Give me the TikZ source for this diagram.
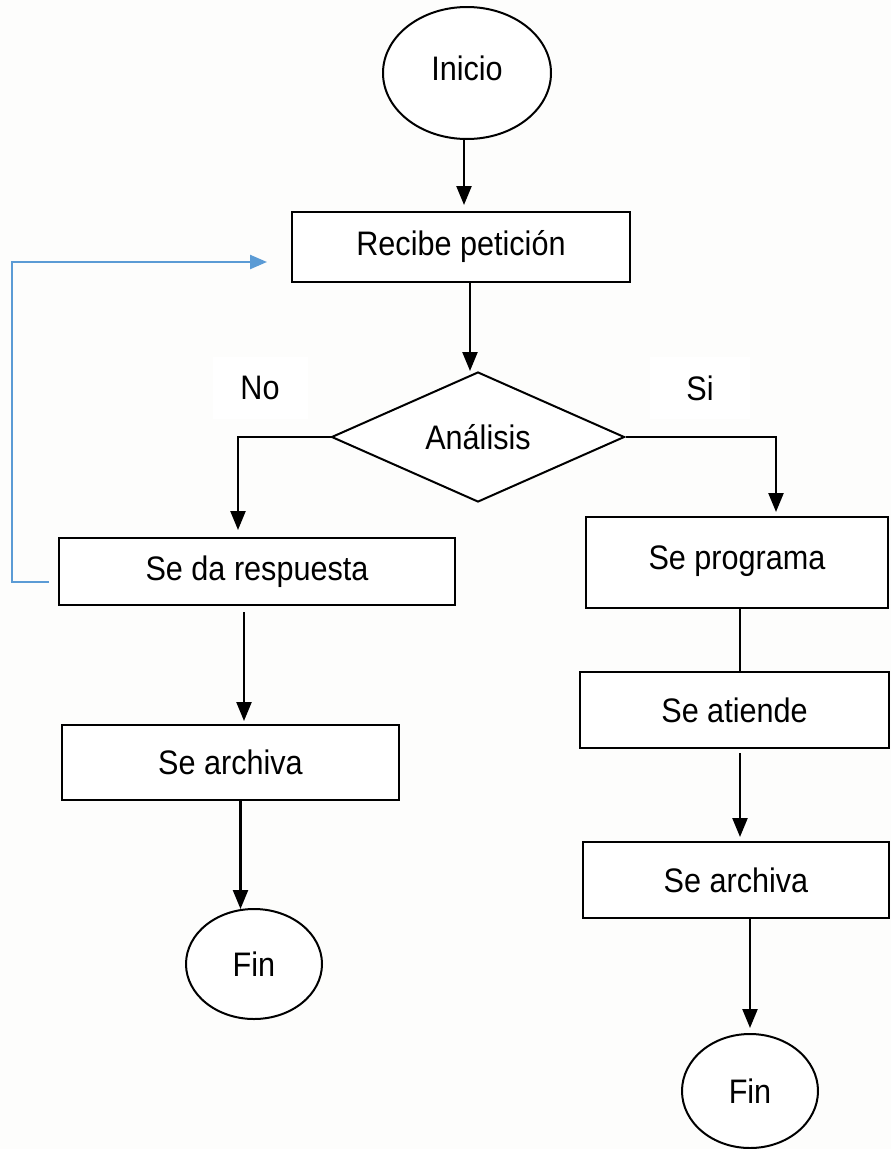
\documentclass[tikz,border=0pt]{standalone}
\usepackage{fontspec}
\setmainfont{Liberation Sans}
\usetikzlibrary{shapes.geometric,arrows.meta,calc}
\definecolor{bg}{RGB}{253,253,252}
\definecolor{loopblue}{RGB}{91,155,213}
\newcommand\narrowtxt[1]{\scalebox{0.9}[1]{#1}}
\begin{document}
\begin{tikzpicture}[x=1pt,y=-1pt,
 every node/.style={font=\fontsize{34}{40}\selectfont, inner sep=0pt},
 box/.style={draw, line width=2pt, fill=white, rectangle},
 oval/.style={draw, line width=2pt, fill=white, ellipse},
 decision/.style={draw, line width=2pt, fill=white, diamond, aspect=2.25},
 arr/.style={line width=2.4pt, -{Triangle[width=15pt,length=19pt]}},
 plain/.style={line width=2.4pt},
 lbl/.style={fill=white},
 back/.style={line width=2.4pt, color=loopblue, -{Triangle[width=14pt,length=17pt]}}]
\path[use as bounding box, fill=bg] (0,0) rectangle (891,1149);

\node[oval, minimum width=168pt, minimum height=132pt] (inicio) at (467,73) {\raisebox{10pt}{\narrowtxt{Inicio}}};
\node[box, minimum width=338pt, minimum height=70pt] (recibe) at (461,247) {\narrowtxt{Recibe petición}};
\node[decision, minimum width=293pt, minimum height=130pt] (dia) at (478,437) {\raisebox{-5pt}{\narrowtxt{Análisis}}};
\node[lbl, minimum width=95pt, minimum height=62pt] (no) at (260,388) {\narrowtxt{No}};
\node[lbl, minimum width=100pt, minimum height=62pt] (si) at (700,388) {\narrowtxt{Si}};

\node[box, minimum width=396pt, minimum height=67pt] (resp) at (257,571.5) {\narrowtxt{Se da respuesta}};
\node[box, minimum width=337pt, minimum height=75pt] (archL) at (230.5,762.5) {\narrowtxt{Se archiva}};
\node[oval, minimum width=136pt, minimum height=110pt] (finL) at (254,964) {\narrowtxt{Fin}};

\node[box, minimum width=302pt, minimum height=91pt] (prog) at (737,562.5) {\raisebox{9pt}{\narrowtxt{Se programa}}};
\node[box, minimum width=309pt, minimum height=76pt] (atiende) at (734.5,710) {\narrowtxt{Se atiende}};
\node[box, minimum width=306pt, minimum height=76pt] (archR) at (736,880) {\narrowtxt{Se archiva}};
\node[oval, minimum width=136pt, minimum height=114pt] (finR) at (750,1091) {\narrowtxt{Fin}};

\draw[arr, shorten >=6pt] ([xshift=-3pt]inicio.south) -- ([xshift=-3pt]inicio.south |- recibe.north);
\draw[arr] ([xshift=9pt]recibe.south) -- ([xshift=9pt]recibe.south |- dia.north);
\draw[arr, shorten >=7pt] (dia.west) -| ([xshift=-19pt]resp.north);
\draw[arr, shorten >=4pt] (dia.east) -| ([xshift=39pt]prog.north);
\draw[plain] ([xshift=3pt]prog.south) -- ([xshift=3pt]prog.south |- atiende.north);
\draw[arr, shorten >=4pt, shorten <=4pt] ([xshift=5.5pt]atiende.south) -- ([xshift=5.5pt]atiende.south |- archR.north);
\draw[arr, shorten >=5pt] ([xshift=14pt]archR.south) -- (finR.north);
\draw[arr, shorten >=3pt, shorten <=6pt] ([xshift=-13pt]resp.south) -- ([xshift=-13pt]resp.south |- archL.north);
\draw[arr] ([xshift=10pt]archL.south) -- ([xshift=10pt,yshift=-1pt]archL.south |- finL.north);
\draw[back] ([xshift=-9pt,yshift=-10.5pt]resp.west) -- ++(-37,0) |- ([xshift=-24pt,yshift=-15pt]recibe.west);
\end{tikzpicture}
\end{document}
